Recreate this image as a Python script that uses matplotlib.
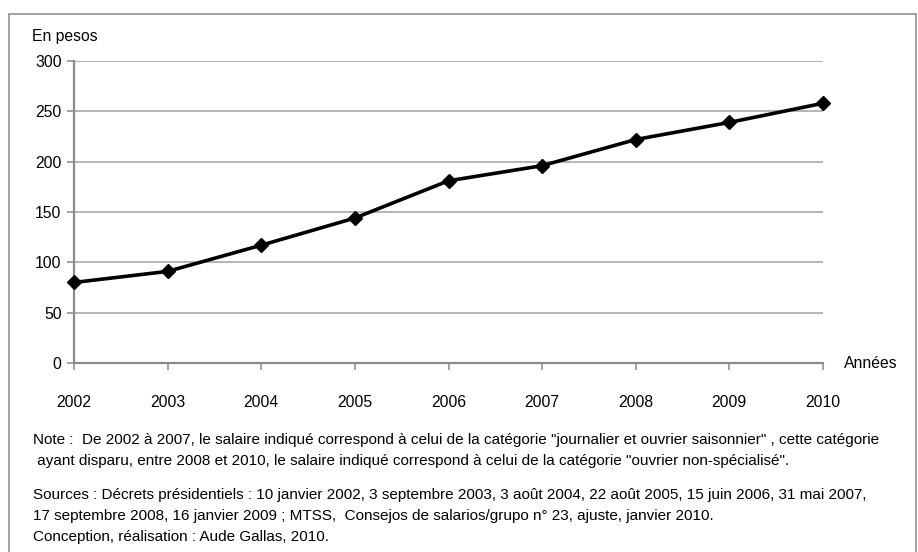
import matplotlib.pyplot as plt
from matplotlib.patches import Rectangle

plt.rcParams['font.family'] = ['Liberation Sans', 'DejaVu Sans']

years = [2002, 2003, 2004, 2005, 2006, 2007, 2008, 2009, 2010]
salary = [80, 91, 117, 144, 181, 196, 222, 239, 258]
yticks = [0, 50, 100, 150, 200, 250, 300]

note_lines = [
    'Note :  De 2002 à 2007, le salaire indiqué correspond à celui de la catégorie "journalier et ouvrier saisonnier" , cette catégorie',
    ' ayant disparu, entre 2008 et 2010, le salaire indiqué correspond à celui de la catégorie "ouvrier non-spécialisé".',
]
source_lines = [
    'Sources : Décrets présidentiels : 10 janvier 2002, 3 septembre 2003, 3 août 2004, 22 août 2005, 15 juin 2006, 31 mai 2007,',
    '17 septembre 2008, 16 janvier 2009 ; MTSS,  Consejos de salarios/grupo n° 23, ajuste, janvier 2010.',
    'Conception, réalisation : Aude Gallas, 2010.',
]

W, H = 918, 552
fig = plt.figure(figsize=(W / 100, H / 100), dpi=100)
ax = fig.add_axes([74 / W, 1 - 363 / H, (823 - 74) / W, (363 - 61) / H])

ax.plot(years, salary, color='black', linewidth=2.6, marker='D', markersize=7,
        clip_on=False, zorder=3)

ax.set_xlim(2002, 2010)
ax.set_ylim(0, 300)
ax.set_yticks(yticks)
ax.set_xticks(years)
ax.grid(axis='y', color='#a0a0a0', linewidth=1.1)
ax.set_axisbelow(True)
for s in ['top', 'right']:
    ax.spines[s].set_visible(False)
for s in ['left', 'bottom']:
    ax.spines[s].set_color('#8a8a8a')
    ax.spines[s].set_linewidth(1.6)
ax.tick_params(axis='y', length=5, width=1.1, color='#8a8a8a', labelsize=11.3, pad=4)
ax.tick_params(axis='x', length=5, width=1.1, color='#8a8a8a', labelsize=11.3, pad=18)

fig.text(32 / W, 1 - 36 / H, 'En pesos', fontsize=11.3, va='center', ha='left')
fig.text(871 / W, 1 - 363 / H, 'Années', fontsize=11.3, va='center', ha='center')

ys = [440, 461]
for t, y in zip(note_lines, ys):
    fig.text(33 / W, 1 - y / H, t, fontsize=11, va='center', ha='left')
ys = [495, 516, 537]
for t, y in zip(source_lines, ys):
    fig.text(33 / W, 1 - y / H, t, fontsize=11, va='center', ha='left')

fig.patches.append(Rectangle((8.5 / W, -0.05), (916 - 8.5) / W, 1 - 13.5 / H + 0.05,
                             transform=fig.transFigure, fill=False,
                             edgecolor='#909090', linewidth=1.2))

fig.savefig('out.png', dpi=100)
